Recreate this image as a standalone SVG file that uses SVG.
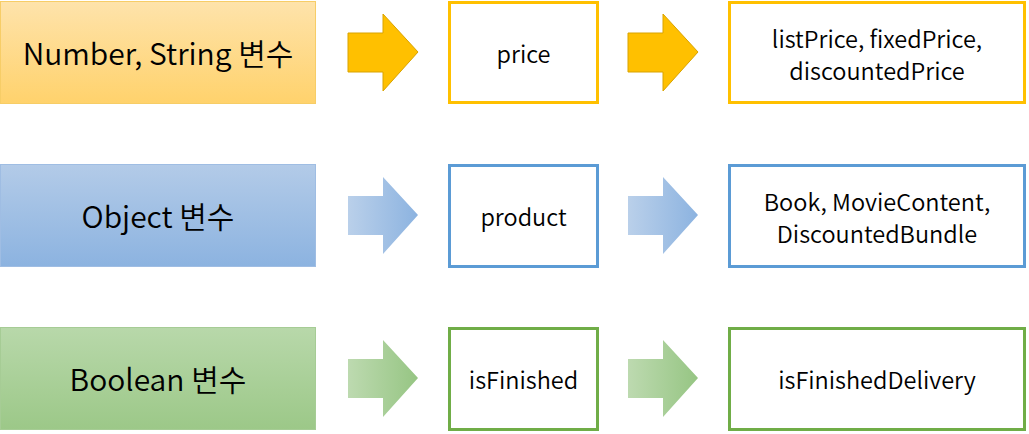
<svg xmlns="http://www.w3.org/2000/svg" width="1029" height="434" viewBox="0 0 1029 434">
<defs>
<linearGradient id="gY" x1="0" y1="0" x2="0" y2="1"><stop offset="0" stop-color="#fee3ab"/><stop offset="1" stop-color="#ffd26c"/></linearGradient>
<linearGradient id="gB" x1="0" y1="0" x2="0" y2="1"><stop offset="0" stop-color="#b3cbe8"/><stop offset="1" stop-color="#8cb3e0"/></linearGradient>
<linearGradient id="gG" x1="0" y1="0" x2="0" y2="1"><stop offset="0" stop-color="#b8d8aa"/><stop offset="1" stop-color="#9cc888"/></linearGradient>
<linearGradient id="aB" x1="0" y1="0" x2="1" y2="0"><stop offset="0" stop-color="#bad0ea"/><stop offset="1" stop-color="#8cb3e0"/></linearGradient>
<linearGradient id="aG" x1="0" y1="0" x2="1" y2="0"><stop offset="0" stop-color="#bddab0"/><stop offset="1" stop-color="#96c583"/></linearGradient>
<path id="arr" d="M0,19 H35 V0 L70,38 L35,77 V58 H0 Z"/>
</defs>
<style>
text{font-family:"Noto Sans CJK KR","Noto Sans",sans-serif;font-weight:350;fill:#000;text-anchor:middle;dominant-baseline:central}
.big{font-size:30px}
.mid{font-size:23.5px}
.box{fill:#fff;stroke-width:3}
.y{stroke:#ffc000}
.b{stroke:#5b9bd5}
.g{stroke:#70ad47}
</style>
<rect width="1029" height="434" fill="#fff"/>

<g id="connectors">
<use href="#arr" x="348" y="14" fill="#ffc000" stroke="#d9a300" stroke-width="1"/>
<use href="#arr" x="628" y="14" fill="#ffc000" stroke="#d9a300" stroke-width="1"/>
<use href="#arr" x="348" y="177" fill="url(#aB)"/>
<use href="#arr" x="628" y="177" fill="url(#aB)"/>
<use href="#arr" x="348" y="340" fill="url(#aG)"/>
<use href="#arr" x="628" y="340" fill="url(#aG)"/>
</g>

<g id="row1-type"><rect x="0.5" y="1.5" width="315" height="102" fill="url(#gY)" stroke="#f7cd67" stroke-width="1"/><text class="big" x="158" y="52">Number, String 변수</text></g>
<g id="row1-var"><rect class="box y" x="449.5" y="2.5" width="148" height="100"/><text class="mid" x="523.5" y="53">price</text></g>
<g id="row1-names"><rect class="box y" x="729.5" y="2.5" width="295" height="100"/><text class="mid" x="877" y="38">listPrice, fixedPrice,</text><text class="mid" x="877" y="70">discountedPrice</text></g>

<g id="row2-type"><rect x="0.5" y="164.5" width="315" height="102" fill="url(#gB)" stroke="#9fbde3" stroke-width="1"/><text class="big" x="158" y="215">Object 변수</text></g>
<g id="row2-var"><rect class="box b" x="449.5" y="165.5" width="148" height="101"/><text class="mid" x="523.5" y="216">product</text></g>
<g id="row2-names"><rect class="box b" x="729.5" y="165.5" width="295" height="101"/><text class="mid" x="877" y="201">Book, MovieContent,</text><text class="mid" x="877" y="233">DiscountedBundle</text></g>

<g id="row3-type"><rect x="0.5" y="327.5" width="315" height="102" fill="url(#gG)" stroke="#a6cc95" stroke-width="1"/><text class="big" x="158" y="378">Boolean 변수</text></g>
<g id="row3-var"><rect class="box g" x="449.5" y="328.5" width="148" height="101"/><text class="mid" x="523.5" y="379">isFinished</text></g>
<g id="row3-names"><rect class="box g" x="729.5" y="328.5" width="295" height="101"/><text class="mid" x="877" y="379">isFinishedDelivery</text></g>
</svg>
